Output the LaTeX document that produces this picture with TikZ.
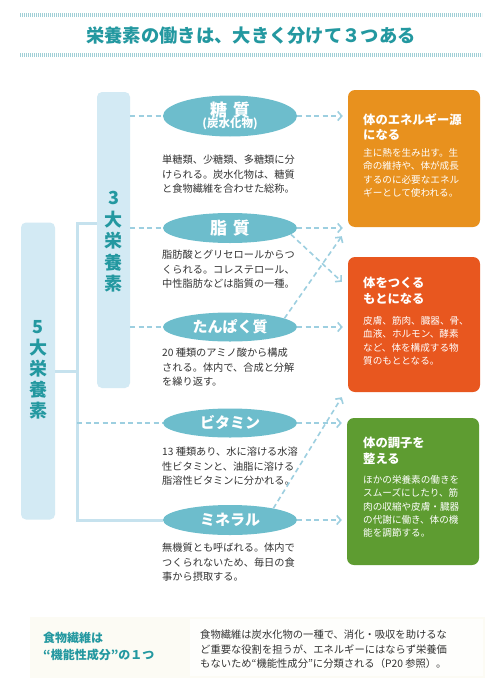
\documentclass[tikz,border=0pt]{standalone}
\usepackage{fontspec}
\setmainfont{Noto Sans CJK JP}
\usetikzlibrary{arrows.meta,calc,shapes.geometric}
\definecolor{teal}{HTML}{2398A0}
\definecolor{lightbox}{HTML}{D3EAF4}
\definecolor{bracketc}{HTML}{C6E2EE}
\definecolor{dashc}{HTML}{9DCFE0}
\definecolor{ellc}{HTML}{6DBDCC}
\definecolor{orangec}{HTML}{E8911E}
\definecolor{redc}{HTML}{E8571F}
\definecolor{greenc}{HTML}{5E9C31}
\definecolor{bodyc}{HTML}{333333}
\definecolor{hatchc}{HTML}{9FCFD6}
\definecolor{creamc}{HTML}{FCFBF4}
\tikzset{
  bluebox/.style={draw=none,fill=lightbox,rounded corners=5pt,inner sep=0pt},
  vtext/.style={text=teal,font=\fontsize{18}{21}\selectfont\bfseries,align=center},
  ell/.style={ellipse,fill=ellc,draw=none,inner sep=0pt,minimum width=134pt,text=white,align=center},
  desc/.style={anchor=north west,inner sep=0pt,align=left,text=bodyc,font=\fontsize{10.2}{14.3}\selectfont},
  colbox/.style={rounded corners=7pt,draw=none,minimum width=132pt,inner sep=0pt},
  boxtitle/.style={anchor=north west,inner sep=0pt,align=left,text=white,font=\fontsize{12.3}{15.5}\selectfont\bfseries},
  boxbody/.style={anchor=north west,inner sep=0pt,align=left,text=white,font=\fontsize{9.6}{13.4}\selectfont},
  conn/.style={draw=dashc,line width=1.6pt,dash pattern=on 5pt off 3.5pt,-{Straight Barb[length=4pt,width=9pt]},shorten >=5pt},
  plaindash/.style={draw=dashc,line width=1.6pt,dash pattern=on 5pt off 3.5pt},
  bracket/.style={draw=bracketc,line width=3pt},
  hatch/.style={draw=hatchc,line width=3.5pt,dash pattern=on 0.8pt off 1.2pt}
}
\begin{document}
\begin{tikzpicture}[x=1pt,y=-1pt]
\useasboundingbox (0,0) rectangle (500,696);
\fill[white] (0,0) rectangle (500,696);

% title
\coordinate (h1a) at (20,15); \coordinate (h1b) at (482,15);
\coordinate (h2a) at (20,55); \coordinate (h2b) at (482,55);
\draw[hatch] (h1a) -- (h1b);
\draw[hatch] (h2a) -- (h2b);
\node[text=teal,font=\fontsize{18.3}{20}\selectfont\bfseries,inner sep=0pt] (title) at (251,36) {栄養素の働きは、大きく分けて３つある};

% left boxes
\node[bluebox,minimum width=34pt,minimum height=297pt] (five) at (38,371) {};
\node[vtext] (fivet) at (38,370) {5\\大\\栄\\養\\素};
\node[bluebox,minimum width=33pt,minimum height=296pt] (three) at (113.5,240) {};
\node[vtext,font=\fontsize{18}{21.5}\selectfont\bfseries] (threet) at (113.5,242) {3\\大\\栄\\養\\素};

% ellipses
\node[ell,minimum height=41pt] (carb) at (230,116) {{\fontsize{17}{18}\selectfont\bfseries 糖\hspace{0.35em}質}\\[-1pt]{\fontsize{11.5}{13}\selectfont\bfseries (炭水化物)}};
\node[ell,minimum height=30pt,font=\fontsize{17}{18}\selectfont\bfseries] (fat) at (230,228) {脂\hspace{0.35em}質};
\node[ell,minimum height=29pt,font=\fontsize{15}{16}\selectfont\bfseries] (prot) at (230,327) {たんぱく質};
\node[ell,minimum height=29pt,font=\fontsize{15}{16}\selectfont\bfseries] (vit) at (230,423) {ビタミン};
\node[ell,minimum height=30pt,font=\fontsize{15}{16}\selectfont\bfseries] (mine) at (230,520) {ミネラル};

% descriptions
\node[desc] (d1) at (162,155) {単糖類、少糖類、多糖類に分\\けられる。炭水化物は、糖質\\と食物繊維を合わせた総称。};
\node[desc] (d2) at (162,250) {脂肪酸とグリセロールからつ\\くられる。コレステロール、\\中性脂肪などは脂質の一種。};
\node[desc] (d3) at (162,348) {20 種類のアミノ酸から構成\\される。体内で、合成と分解\\を繰り返す。};
\node[desc] (d4) at (162,447) {13 種類あり、水に溶ける水溶\\性ビタミンと、油脂に溶ける\\脂溶性ビタミンに分かれる。};
\node[desc] (d5) at (162,543) {無機質とも呼ばれる。体内で\\つくられないため、毎日の食\\事から摂取する。};

% bracket
\coordinate (br) at (77,223);
\coordinate (bb) at (77,520);
\draw[bracket] (three.west |- br) -- (br) -- (bb) -- (mine.west);
\draw[bracket] (five.east) -- (five.east -| br);

% dashed lines from left
\draw[plaindash] (three.east |- carb.west) -- (carb.west);
\draw[plaindash] (three.east |- fat.west) -- (fat.west);
\draw[plaindash] (three.east |- prot.west) -- (prot.west);
\draw[plaindash] (br |- vit.west) -- (vit.west);

% right boxes
\node[colbox,fill=orangec,minimum height=137pt] (energy) at (414,158.5) {};
\node[colbox,fill=redc,minimum height=135pt] (build) at (414,324.5) {};
\node[colbox,fill=greenc,minimum height=147pt] (cond) at (413,491.5) {};

\node[boxtitle] (t1) at (363,113) {体のエネルギー源\\になる};
\node[boxbody] (b1) at (363,148.3) {主に熱を生み出す。生\\命の維持や、体が成長\\するのに必要なエネル\\ギーとして使われる。};
\node[boxtitle] (t2) at (363,277) {体をつくる\\もとになる};
\node[boxbody] (b2) at (363,316) {皮膚、筋肉、臓器、骨、\\血液、ホルモン、酵素\\など、体を構成する物\\質のもととなる。};
\node[boxtitle] (t3) at (363,437) {体の調子を\\整える};
\node[boxbody] (b3) at (363,475) {ほかの栄養素の働きを\\スムーズにしたり、筋\\肉の収縮や皮膚・臓器\\の代謝に働き、体の機\\能を調節する。};

% connectors
\draw[conn] (carb.east) -- (carb.east -| energy.west);
\draw[conn] (fat.east) -- (fat.east -| energy.west);
\draw[conn,shorten >=0pt] (fat.-6) -- ($(build.north west)+(-6,25)$);
\draw[conn,shorten >=0pt] (prot.9) -- ($(energy.south west)+(-6,9)$);
\draw[conn] (prot.east) -- (prot.east -| build.west);
\draw[conn,shorten >=0pt] (mine.15) -- ($(build.south west)+(-6,5)$);
\draw[conn] (vit.east) -- (vit.east -| cond.west);
\draw[conn] (mine.east) -- (mine.east -| cond.west);

% bottom note
\fill[creamc] (30,617) rectangle (485,678);
\fill[white!70!creamc] (190,619) rectangle (483,676);
\node[anchor=north west,inner sep=0pt,align=left,text=teal,font=\fontsize{12}{17}\selectfont\bfseries] (fl) at (43,632) {食物繊維は\\“機能性成分”の１つ};
\node[anchor=north west,inner sep=0pt,align=left,text=bodyc,font=\fontsize{10.3}{14.5}\selectfont] (fr) at (200,630) {食物繊維は炭水化物の一種で、消化・吸収を助けるな\\ど重要な役割を担うが、エネルギーにはならず栄養価\\もないため“機能性成分”に分類される（P20 参照）。};
\end{tikzpicture}
\end{document}
